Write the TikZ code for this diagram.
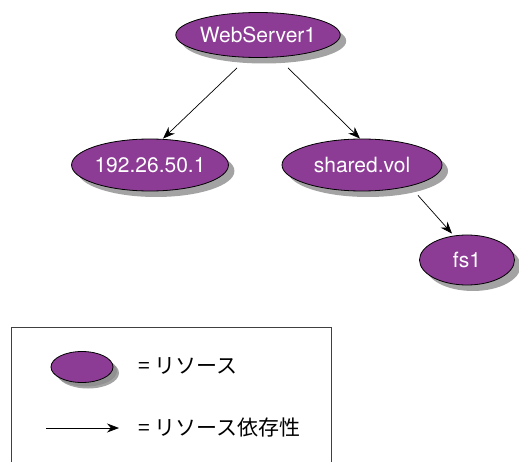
\documentclass[tikz,border=0pt]{standalone}
\usepackage{fontspec}
\setmainfont{TeX Gyre Heros}
\newfontfamily\jpfont{Noto Sans CJK JP}
\usetikzlibrary{arrows.meta,shadows,shapes.geometric}
\definecolor{respurple}{HTML}{8C3C94}
\tikzset{
  resource/.style={ellipse, draw=black, line width=0.8pt, fill=respurple,
    text=white, font=\fontsize{21}{23}\selectfont, inner sep=0pt,
    drop shadow={shadow xshift=6pt, shadow yshift=-6pt, fill=black!45, opacity=0.8}},
  dep/.style={draw=black, line width=0.7pt, -{Stealth[length=12pt,width=9pt]}},
  legendtext/.style={anchor=west, font=\jpfont\fontsize{21}{23}\selectfont}
}
\begin{document}
\begin{tikzpicture}[x=1pt,y=-1pt]
\useasboundingbox (0,0) rectangle (519,462);
% resources
\node[resource, minimum width=160pt, minimum height=45pt] (web) at (258,35) {WebServer1};
\node[resource, minimum width=156pt, minimum height=52pt] (ip) at (150,165) {192.26.50.1};
\node[resource, minimum width=160pt, minimum height=52pt] (vol) at (362,165) {shared.vol};
\node[resource, minimum width=95pt, minimum height=50pt] (fs) at (467,260) {fs1};
% dependencies (they start just below the parent's shadow)
\draw[dep] ([shift={(-21,10)}]web.south) -- ([xshift=13]ip.north);
\draw[dep] ([shift={(30,10)}]web.south) -- ([xshift=-2]vol.north);
\draw[dep] ([shift={(56,4)}]vol.south) -- ([shift={(-15,-1)}]fs.north);
% legend
\draw[line width=0.8pt, draw=black!75] (11,470) -- (11,327) -- (331,327) -- (331,470);
\node[resource, minimum width=62pt, minimum height=31pt,
  drop shadow={shadow xshift=4pt, shadow yshift=-4pt, fill=black!45, opacity=0.8}] (leg) at (82,367) {};
\node[legendtext] (legres) at (135,366) {= リソース};
\coordinate (la) at (46,428);
\coordinate (lb) at (119,428);
\draw[dep] (la) -- (lb);
\node[legendtext] (legdep) at (135,428) {= リソース依存性};
\end{tikzpicture}
\end{document}
